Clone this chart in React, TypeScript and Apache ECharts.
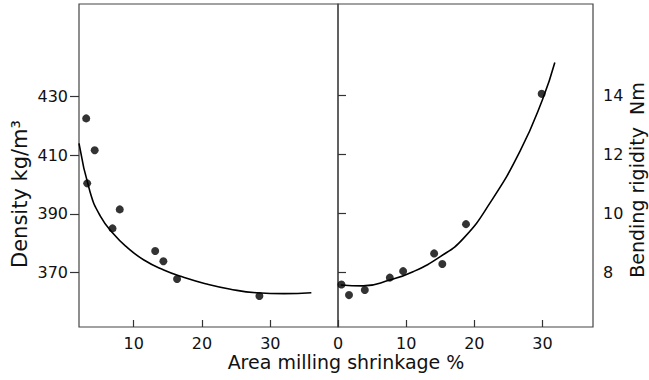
import React, { useEffect, useRef } from 'react';
import * as echarts from 'echarts';

// Left panel: density (kg/m3) vs area milling shrinkage (%)
const leftPointsX = [3.05, 4.3, 3.2, 7.96, 6.9, 13.15, 14.35, 16.35, 28.4];
const leftPointsY = [422.6, 411.7, 400.4, 391.5, 385.0, 377.3, 373.8, 367.7, 361.9];
const leftCurveX = [2.0, 3.6, 5.1, 7.1, 9.0, 11.5, 14.4, 17.3, 20.5, 24.0, 28.0, 32.0, 36.0];
const leftCurveY = [414.1, 397.6, 389.3, 383.0, 378.6, 374.2, 370.8, 368.3, 366.1, 364.3, 363.0, 362.7, 363.0];

// Right panel: bending rigidity (Nm) vs area milling shrinkage (%)
const rightPointsX = [0.5, 1.61, 3.93, 7.6, 9.55, 14.1, 15.3, 18.77, 29.87];
const rightPointsY = [7.59, 7.23, 7.4, 7.82, 8.04, 8.64, 8.28, 9.63, 14.04];
const rightCurveX = [0.4, 3.7, 7.6, 11.0, 15.0, 18.4, 22.3, 26.7, 30.0, 31.8];
const rightCurveY = [7.57, 7.54, 7.74, 8.02, 8.53, 9.15, 10.35, 12.1, 13.85, 15.1];

// Tick labels
const leftXTicks = [10, 20, 30];
const rightXTicks = [0, 10, 20, 30];
const leftYTicks = [370, 390, 410, 430];
const rightYTicks = [8, 10, 12, 14];

const xTitle = 'Area milling shrinkage %';
const leftYTitle = 'Density kg/m³';
const rightYTitle = 'Bending rigidity  Nm';

const zip = (xs: number[], ys: number[]) => xs.map((x, i) => [x, ys[i]]);

export default function App() {
  const ref = useRef<HTMLDivElement>(null);
  useEffect(() => {
    if (!ref.current) return;
    const chart = echarts.init(ref.current, null, { renderer: 'svg' });
    const font = 'DejaVu Sans';
    const ink = '#000';
    const frame = '#444';
    const labelStyle = { fontFamily: font, fontSize: 16, color: '#111' };
    const tickStyle = { color: '#333', width: 1.2 };
    const option: any = {
      animation: false,
      backgroundColor: '#ffffff',
      grid: [
        { left: 79, top: 4, width: 259, height: 323, show: true, borderColor: frame, borderWidth: 1.2, backgroundColor: 'transparent' },
        { left: 338, top: 4, width: 255, height: 323, show: true, borderColor: frame, borderWidth: 1.2, backgroundColor: 'transparent' },
      ],
      xAxis: [
        {
          gridIndex: 0, type: 'value', min: 2, max: 39.9,
          axisLine: { show: false }, splitLine: { show: false },
          axisTick: { show: true, inside: true, length: 7, customValues: leftXTicks, lineStyle: tickStyle },
          axisLabel: { ...labelStyle, customValues: leftXTicks, margin: 8 },
        },
        {
          gridIndex: 1, type: 'value', min: 0, max: 37.4,
          axisLine: { show: false }, splitLine: { show: false },
          axisTick: { show: true, inside: true, length: 7, customValues: rightXTicks, lineStyle: tickStyle },
          axisLabel: { ...labelStyle, customValues: rightXTicks, margin: 8 },
        },
      ],
      yAxis: [
        {
          gridIndex: 0, type: 'value', min: 351.3, max: 461.7, position: 'left',
          axisLine: { show: false }, splitLine: { show: false },
          axisTick: { show: true, inside: false, length: 9, customValues: leftYTicks, lineStyle: tickStyle },
          axisLabel: { ...labelStyle, customValues: leftYTicks, margin: 11 },
        },
        {
          gridIndex: 1, type: 'value', min: 6.15, max: 17.08, position: 'right',
          axisLine: { show: false }, splitLine: { show: false },
          axisTick: { show: true, inside: false, length: 8, customValues: rightYTicks, lineStyle: tickStyle },
          axisLabel: { ...labelStyle, customValues: rightYTicks, margin: 10 },
        },
      ],
      series: [
        {
          type: 'line', xAxisIndex: 0, yAxisIndex: 0, data: zip(leftCurveX, leftCurveY),
          smooth: true, showSymbol: false, symbol: 'none',
          lineStyle: { color: ink, width: 1.6 }, z: 2,
        },
        {
          type: 'scatter', xAxisIndex: 0, yAxisIndex: 0, data: zip(leftPointsX, leftPointsY),
          symbol: 'circle', symbolSize: 8, itemStyle: { color: ink }, z: 3,
        },
        {
          type: 'line', xAxisIndex: 1, yAxisIndex: 1, data: zip(rightCurveX, rightCurveY),
          smooth: true, showSymbol: false, symbol: 'none',
          lineStyle: { color: ink, width: 1.6 }, z: 2,
        },
        {
          type: 'scatter', xAxisIndex: 1, yAxisIndex: 1, data: zip(rightPointsX, rightPointsY),
          symbol: 'circle', symbolSize: 8, itemStyle: { color: ink }, z: 3,
        },
      ],
      graphic: [
        {
          type: 'text', x: 346, y: 362,
          style: { text: xTitle, fontFamily: font, fontSize: 19, fill: '#111', align: 'center', verticalAlign: 'middle' },
        },
        {
          type: 'text', x: 20, y: 194, rotation: Math.PI / 2,
          style: { text: leftYTitle, fontFamily: font, fontSize: 21, fill: '#111', align: 'center', verticalAlign: 'middle' },
        },
        {
          type: 'text', x: 637, y: 180, rotation: Math.PI / 2,
          style: { text: rightYTitle, fontFamily: font, fontSize: 19, fill: '#111', align: 'center', verticalAlign: 'middle' },
        },
      ],
    };
    chart.setOption(option);
    return () => chart.dispose();
  }, []);
  return (
    <div
      ref={ref}
      style={{ position: 'fixed', left: 0, top: 0, width: 649, height: 380, background: '#fff' }}
    />
  );
}
